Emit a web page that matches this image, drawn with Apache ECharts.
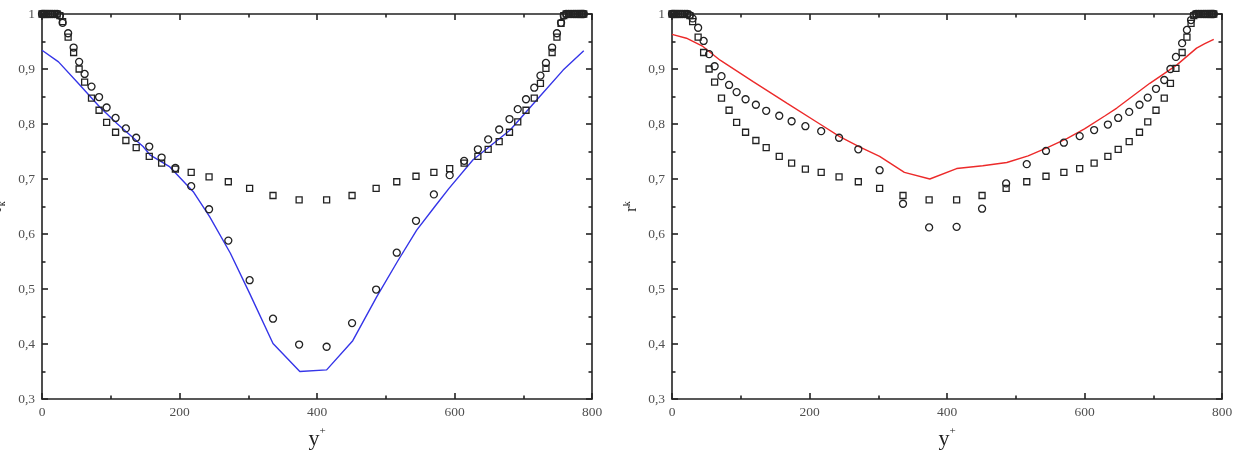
<!DOCTYPE html>
<html>
<head>
<meta charset="utf-8">
<script src="https://cdn.jsdelivr.net/npm/echarts@6/dist/echarts.min.js"></script>
<style>
html,body{margin:0;padding:0;background:#fff;}
#c{width:1240px;height:453px;}
</style>
</head>
<body>
<div id="c"></div>
<script>
// shared y+ positions of the markers
const markerX = [0,2,4,6.5,9,12,15,18.5,22,26,
  30,38,46,54,62,72,83,94,107,122,
  137,156,174,194,217,243,271,302,336,374,
  414,451,486,516,544,570,593,614,634,649,
  665,680,692,704,716,725,733,742,749,755,
  759,762.5,766,769.5,773,776,779,781.5,784,786,788];

// left panel circles
const circlesLeft = [1,1,1,1,1,1,1,1,1,0.997,
  0.984,0.965,0.939,0.913,0.891,0.868,0.849,0.830,0.811,0.792,
  0.775,0.759,0.739,0.720,0.687,0.645,0.588,0.516,0.446,0.399,
  0.395,0.438,0.499,0.566,0.624,0.672,0.707,0.733,0.754,0.772,
  0.790,0.809,0.827,0.845,0.866,0.888,0.911,0.939,0.965,0.984,
  0.997,1,1,1,1,1,1,1,1,1,1];

// squares (same in both panels)
const squaresVals = [1,1,1,1,1,1,1,1,1,0.997,
  0.986,0.958,0.930,0.900,0.876,0.847,0.825,0.803,0.785,0.770,
  0.757,0.741,0.729,0.718,0.712,0.704,0.695,0.683,0.670,0.662,
  0.662,0.670,0.683,0.695,0.705,0.712,0.719,0.729,0.741,0.754,
  0.768,0.785,0.804,0.825,0.847,0.874,0.901,0.930,0.958,0.983,
  0.997,1,1,1,1,1,1,1,1,1,1];

// right panel circles
const circlesRight = [1,1,1,1,1,1,1,1,1,0.998,
  0.992,0.975,0.951,0.927,0.905,0.887,0.871,0.858,0.845,0.835,
  0.824,0.815,0.805,0.796,0.787,0.775,0.754,0.716,0.655,0.612,
  0.613,0.646,0.692,0.727,0.751,0.766,0.778,0.789,0.799,0.811,
  0.822,0.835,0.848,0.864,0.880,0.900,0.922,0.947,0.971,0.989,
  0.998,1,1,1,1,1,1,1,1,1,1];

// blue line (left panel)
const blueX = [0,24,55,84,109,147,157,186,220,244,274,302,336,375,414,452,487,517,545,572,592,627,681,724,758,788];
const blueY = [0.934,0.913,0.871,0.831,0.801,0.759,0.744,0.722,0.677,0.631,0.565,0.492,0.401,0.350,0.353,0.406,0.486,0.550,0.607,0.651,0.683,0.735,0.789,0.850,0.898,0.933];

// red line (right panel)
const redX = [0,21,45,70,118,167,215,244,272,302,338,375,414,452,487,518,546,575,600,630,647,695,734,763,775,788];
const redY = [0.963,0.956,0.941,0.916,0.877,0.838,0.800,0.777,0.759,0.741,0.712,0.700,0.719,0.724,0.730,0.742,0.757,0.774,0.791,0.815,0.829,0.874,0.907,0.938,0.946,0.954];

const xTicks = [0,200,400,600,800];
const yTicks = [0.3,0.4,0.5,0.6,0.7,0.8,0.9,1];

const pair = (xs, ys) => xs.map((x, i) => [x, ys[i]]);

const serif = 'Liberation Serif';
const axisColor = '#222';
const lineStyle = {color: axisColor, width: 1.6};

function xAxes(grid) {
  const base = {
    gridIndex: grid, type: 'value', min: xTicks[0], max: xTicks[xTicks.length-1], interval: 200,
    axisLine: {show: true, onZero: false, lineStyle},
    axisTick: {show: true, inside: true, length: 6, lineStyle},
    minorTick: {show: true, splitNumber: 2, length: 3.5, lineStyle},
    splitLine: {show: false}
  };
  return [
    Object.assign({}, base, {
      position: 'bottom',
      axisLabel: {show: true, fontFamily: serif, fontSize: 13.5, color: '#505050', margin: 6},
      name: '{y|y}{s|+}', nameLocation: 'middle', nameGap: 27,
      nameTextStyle: {rich: {
        y: {fontFamily: serif, fontSize: 22, color: '#222', verticalAlign: 'bottom', lineHeight: 24},
        s: {fontFamily: serif, fontSize: 11, color: '#222', verticalAlign: 'top', lineHeight: 24}
      }}
    }),
    Object.assign({}, base, {position: 'top', axisLabel: {show: false}})
  ];
}

function yAxes(grid, nameRich, gap) {
  const base = {
    gridIndex: grid, type: 'value', min: 0.3, max: 1, interval: 0.1,
    axisLine: {show: true, onZero: false, lineStyle},
    axisTick: {show: true, inside: true, length: 6, lineStyle},
    minorTick: {show: true, splitNumber: 2, length: 3.5, lineStyle},
    splitLine: {show: false}
  };
  return [
    Object.assign({}, base, {
      position: 'left',
      axisLabel: {show: true, fontFamily: serif, fontSize: 13.5, color: '#505050', margin: 7,
        formatter: v => { const r = Math.round(v * 10) / 10; return r === 1 ? '1' : r.toFixed(1).replace('.', ','); }},
      name: nameRich.text, nameLocation: 'middle', nameGap: gap,
      nameTextStyle: {rich: nameRich.rich}
    }),
    Object.assign({}, base, {position: 'right', axisLabel: {show: false}})
  ];
}

const subName = {
  text: '{r|r}{k|k}',
  rich: {
    r: {fontFamily: serif, fontSize: 16, color: '#222', verticalAlign: 'top', lineHeight: 18},
    k: {fontFamily: serif, fontSize: 10, color: '#222', verticalAlign: 'bottom', lineHeight: 18}
  }
};
const supName = {
  text: '{r|r}{k|k}',
  rich: {
    r: {fontFamily: serif, fontSize: 16, color: '#222', verticalAlign: 'bottom', lineHeight: 18},
    k: {fontFamily: serif, fontSize: 10, color: '#222', verticalAlign: 'top', lineHeight: 18}
  }
};

function scatter(name, sym, size, xi, yi, data) {
  return {
    name, type: 'scatter', xAxisIndex: xi, yAxisIndex: yi, data,
    symbol: sym, symbolSize: size, clip: false, z: 3,
    itemStyle: {color: 'rgba(0,0,0,0)', borderColor: '#222', borderWidth: 1.3, opacity: 1},
    emphasis: {disabled: true}
  };
}

const option = {
  backgroundColor: '#fff',
  animation: false,
  grid: [
    {left: 42, top: 14, width: 550, height: 385, outerBoundsMode: 'none', containLabel: false},
    {left: 672, top: 14, width: 550, height: 385, outerBoundsMode: 'none', containLabel: false}
  ],
  xAxis: [...xAxes(0), ...xAxes(1)],
  yAxis: [...yAxes(0, subName, 35), ...yAxes(1, supName, 32)],
  series: [
    {type: 'line', xAxisIndex: 0, yAxisIndex: 0, data: pair(blueX, blueY), showSymbol: false,
      lineStyle: {color: '#3535e8', width: 1.4}, z: 2},
    scatter('circles', 'circle', 7, 0, 0, pair(markerX, circlesLeft)),
    scatter('squares', 'rect', 6, 0, 0, pair(markerX, squaresVals)),
    {type: 'line', xAxisIndex: 2, yAxisIndex: 2, data: pair(redX, redY), showSymbol: false,
      lineStyle: {color: '#ec2a2a', width: 1.4}, z: 2},
    scatter('circles', 'circle', 7, 2, 2, pair(markerX, circlesRight)),
    scatter('squares', 'rect', 6, 2, 2, pair(markerX, squaresVals))
  ]
};

const chart = echarts.init(document.getElementById('c'), null, {renderer: 'canvas'});
chart.setOption(option);
</script>
</body>
</html>
